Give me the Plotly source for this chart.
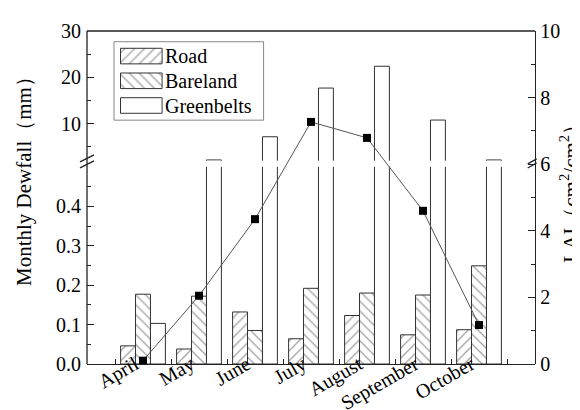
import plotly.graph_objects as go

# ---------------- data ----------------
months = ["April", "May", "June", "July", "August", "September", "October"]
road = [0.046, 0.038, 0.132, 0.064, 0.123, 0.074, 0.087]
bareland = [0.177, 0.172, 0.085, 0.192, 0.180, 0.175, 0.249]
greenbelts = [0.103, 2.2, 7.2, 17.7, 22.4, 10.8, 2.2]
lai = [0.10, 2.05, 4.35, 7.27, 6.79, 4.60, 1.17]
series_names = ["Road", "Bareland", "Greenbelts"]
low_ticks = [0.0, 0.1, 0.2, 0.3, 0.4]
low_minor = [0.05, 0.15, 0.25, 0.35, 0.45]
high_ticks = [10, 20, 30]
high_minor = [5, 15, 25]
lai_ticks = [0, 2, 4, 6, 8, 10]
lai_minor = [1, 3, 5, 7, 9]

# ---------------- style ----------------
FONT = "Liberation Serif"
AX = "#222222"
patterns = ["/", "\\", ""]
W, H = 580, 410
L, R, T, B = 79, 527.3, 23.3, 355.7
PW, PH = R - L, B - T


def px(x):
    return (x - L) / PW


def py(y):
    return (B - y) / PH


def bar_marker(shape):
    return dict(color="white", line=dict(color="#333333", width=1),
                pattern=dict(shape=shape, fgcolor="#444444", bgcolor="white",
                             size=7, solidity=0.18))


fig = go.Figure()
for yax in ["y", "y2"]:
    for name, vals, pat in zip(series_names, [road, bareland, greenbelts], patterns):
        fig.add_bar(x=months, y=vals, name=name, xaxis="x", yaxis=yax,
                    marker=bar_marker(pat), showlegend=False)

fig.add_scatter(x=months, y=lai, xaxis="x", yaxis="y3", mode="lines+markers",
                line=dict(color="#555555", width=1),
                marker=dict(symbol="square", size=8, color="black"),
                showlegend=False)

# legend swatches drawn as a small bar subplot
fig.add_bar(x=[1, 1, 1], y=series_names, orientation="h", xaxis="x2", yaxis="y4",
            width=0.63, showlegend=False,
            marker=dict(color="white", line=dict(color="#333333", width=1),
                        pattern=dict(shape=patterns, fgcolor="#444444", bgcolor="white",
                                     size=7, solidity=0.18)))

tickfont = dict(family=FONT, size=20, color="black")
common_y = dict(showgrid=False, zeroline=False, ticks="inside", ticklen=7,
                tickcolor=AX, tickwidth=1.2, tickfont=tickfont, automargin=False)

fig.update_layout(
    width=W, height=H,
    margin=dict(l=L, r=W - R, t=T, b=H - B, autoexpand=False),
    paper_bgcolor="white", plot_bgcolor="rgba(0,0,0,0)",
    barmode="group", bargap=0.2, bargroupgap=0,
    font=dict(family=FONT, size=20, color="black"),
    showlegend=False,
    xaxis=dict(domain=[0, 1], anchor="y", type="category", range=[-1, 7],
               showline=True, linecolor=AX, linewidth=1.3, ticks="inside",
               ticklen=5, tickson="boundaries", tickcolor=AX, tickangle=-30,
               ticklabelstandoff=-20, ticklabelshift=-8,
               tickfont=tickfont, showgrid=False, zeroline=False, automargin=False),
    yaxis=dict(domain=[0, 0.592], anchor="x", range=[0, 0.5],
               tickvals=low_ticks, ticktext=[f"{v:.1f}" for v in low_ticks],
               minor=dict(tickvals=low_minor, ticks="inside", ticklen=4, tickcolor=AX),
               ticklabelstandoff=5, **common_y),
    yaxis2=dict(domain=[0.61, 1], anchor="x", range=[2, 30],
                tickvals=high_ticks,
                minor=dict(tickvals=high_minor, ticks="inside", ticklen=4, tickcolor=AX),
                ticklabelstandoff=5, **common_y),
    yaxis3=dict(domain=[0, 1], anchor="x", side="right", range=[0, 10],
                tickvals=lai_ticks,
                minor=dict(tickvals=lai_minor, ticks="inside", ticklen=4, tickcolor=AX),
                showline=True, linecolor=AX, linewidth=1.3, **common_y),
    xaxis2=dict(domain=[px(111.7), px(155)], anchor="y4", range=[-0.02, 1.02],
                visible=False),
    yaxis4=dict(domain=[py(110), py(36)], anchor="x2", type="category",
                autorange="reversed", side="right", showline=False, showgrid=False,
                zeroline=False, ticks="", ticklabelstandoff=1,
                tickfont=tickfont, automargin=False),
)

line_style = dict(color=AX, width=1.3)
shapes = [
    dict(type="line", xref="paper", yref="paper", x0=0, x1=0, y0=0, y1=1, line=line_style),
    dict(type="line", xref="paper", yref="paper", x0=0, x1=1, y0=1, y1=1, line=line_style),
    # left break marks
    dict(type="line", xref="paper", yref="paper", x0=px(72), x1=px(86), y0=py(154), y1=py(147), line=line_style),
    dict(type="line", xref="paper", yref="paper", x0=px(72), x1=px(86), y0=py(160), y1=py(153), line=line_style),
    # right break marks
    dict(type="line", xref="paper", yref="paper", x0=px(520), x1=px(529), y0=py(156), y1=py(151), line=line_style),
    dict(type="line", xref="paper", yref="paper", x0=px(520), x1=px(529), y0=py(160), y1=py(155), line=line_style),
    # legend frame
    dict(type="rect", xref="paper", yref="paper", x0=px(106), x1=px(255.7), y0=py(112.3), y1=py(34),
         line=dict(color="#888888", width=1), fillcolor="rgba(0,0,0,0)"),
]
fig.update_layout(shapes=shapes)

fig.add_annotation(text="Monthly Dewfall（mm）", xref="paper", yref="paper",
                   x=px(16), y=py(168), showarrow=False, textangle=-90,
                   font=dict(family=FONT, size=21, color="black"),
                   xanchor="center", yanchor="middle")
fig.add_annotation(text="LAI（cm<sup>2</sup>/cm<sup>2</sup>）", xref="paper", yref="paper",
                   x=1, xshift=562 - R, y=py(180), showarrow=False, textangle=-90,
                   font=dict(family=FONT, size=21, color="black"),
                   xanchor="center", yanchor="middle")

fig.write_html("out.html")
